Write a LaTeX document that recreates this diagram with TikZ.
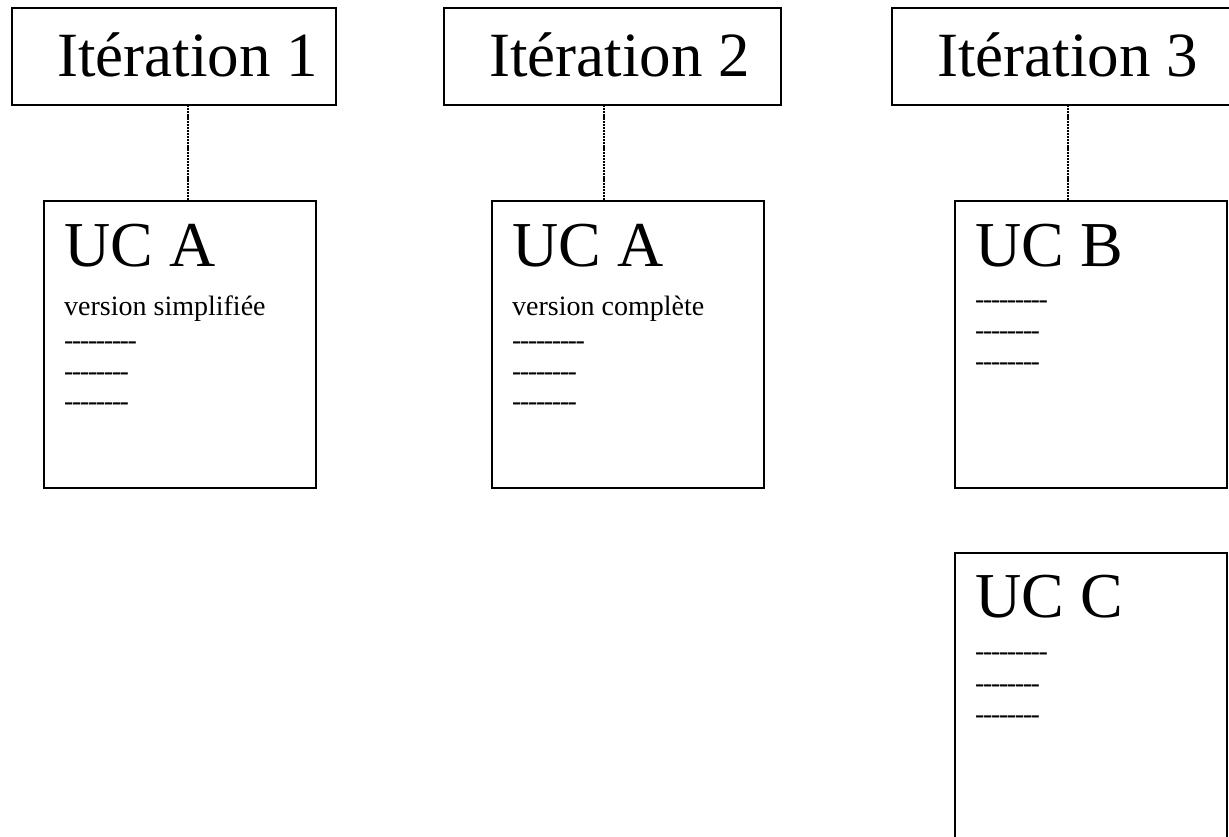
\documentclass[tikz,border=0pt]{standalone}
\usepackage{fontspec}
\setmainfont{Liberation Serif}
% a hyphen followed by a small kern: keeps rows of hyphens apart (no en-dash ligature) and tight
\newcommand\hy{-\kern-1.4pt}
\newcommand\dashnine{\hy\hy\hy\hy\hy\hy\hy\hy\hy}
\newcommand\dasheight{\hy\hy\hy\hy\hy\hy\hy\hy}
\tikzset{
  framebox/.style={draw, line width=2pt, inner sep=0pt, outer sep=0pt, anchor=north west},
  itertext/.style={inner sep=0pt, anchor=base west, font=\fontsize{63}{70}\selectfont},
  uctitle/.style={inner sep=0pt, anchor=base west, font=\fontsize{64}{70}\selectfont},
  uctext/.style={inner sep=0pt, anchor=base west, font=\fontsize{28}{32}\selectfont},
  link/.style={line width=2.6pt, dash pattern=on 2.2pt off 0.9pt},
}
\begin{document}
\begin{tikzpicture}[x=1pt, y=-1pt]
\useasboundingbox (0,0) rectangle (1229,836);

% iteration headers
\node[framebox, minimum width=324pt, minimum height=97pt] (it1) at (12,8) {};
\node[framebox, minimum width=337pt, minimum height=97pt] (it2) at (444,8) {};
\node[framebox, minimum width=340pt, minimum height=97pt] (it3) at (892,8) {};
\node[itertext] (it1t) at (57,76) {Itération 1};
\node[itertext] (it2t) at (489,76) {Itération 2};
\node[itertext] (it3t) at (937,76) {Itération 3};

% use-case cards
\node[framebox, minimum width=272pt, minimum height=287pt] (uca1) at (44,201) {};
\node[framebox, minimum width=272pt, minimum height=287pt] (uca2) at (492,201) {};
\node[framebox, minimum width=272pt, minimum height=287pt] (ucb) at (955,201) {};
\node[framebox, minimum width=272pt, minimum height=300pt] (ucc) at (955,553) {};

% card contents
\node[uctitle] (uca1t) at (64,266) {UC A};
\node[uctext] (uca1v) at (64,315) {version simplifiée};
\node[uctext] (uca1d1) at (64,349) {\dashnine};
\node[uctext] (uca1d2) at (64,380) {\dasheight};
\node[uctext] (uca1d3) at (64,410) {\dasheight};

\node[uctitle] (uca2t) at (512,266) {UC A};
\node[uctext] (uca2v) at (512,315) {version complète};
\node[uctext] (uca2d1) at (512,349) {\dashnine};
\node[uctext] (uca2d2) at (512,380) {\dasheight};
\node[uctext] (uca2d3) at (512,410) {\dasheight};

\node[uctitle] (ucbt) at (975,266) {UC B};
\node[uctext] (ucbd1) at (975,308) {\dashnine};
\node[uctext] (ucbd2) at (975,339) {\dasheight};
\node[uctext] (ucbd3) at (975,370) {\dasheight};

\node[uctitle] (ucct) at (975,617) {UC C};
\node[uctext] (uccd1) at (975,660) {\dashnine};
\node[uctext] (uccd2) at (975,692) {\dasheight};
\node[uctext] (uccd3) at (975,723) {\dasheight};

% dotted links from each iteration to its first card
\draw[link] (it1.south -| 188,0) -- (uca1.north -| 188,0);
\draw[link] (it2.south -| 604,0) -- (uca2.north -| 604,0);
\draw[link] (it3.south -| 1068,0) -- (ucb.north -| 1068,0);
\end{tikzpicture}
\end{document}
